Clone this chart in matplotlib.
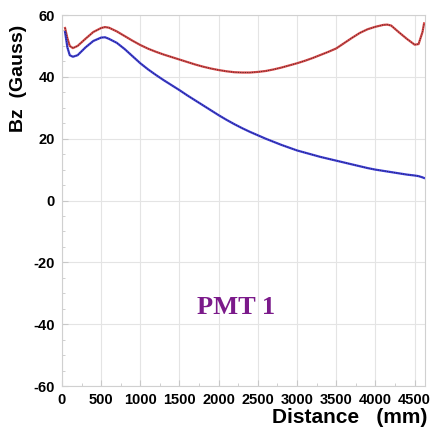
import numpy as np
import matplotlib
matplotlib.use("Agg")
import matplotlib.pyplot as plt
from matplotlib.ticker import MultipleLocator

# distance along the axis (mm) and Bz (Gauss)
dist = [40, 70, 100, 140, 200, 300, 400, 500, 550, 600, 700, 800, 900,
        1000, 1100, 1200, 1300, 1400, 1500, 1600, 1700, 1800, 1900,
        2000, 2100, 2200, 2300, 2400, 2500, 2600, 2700, 2800, 2900,
        3000, 3100, 3200, 3300, 3400, 3500, 3600, 3700, 3800, 3900,
        4000, 4100, 4150, 4200, 4300, 4400, 4500, 4550, 4600, 4620]

bz_red = [55.8, 52.5, 50.0, 49.3, 50.0, 52.3, 54.5, 55.8, 56.1, 55.9, 54.7, 53.2, 51.7,
          50.3, 49.1, 48.1, 47.2, 46.4, 45.6, 44.8, 44.0, 43.3, 42.7,
          42.2, 41.8, 41.5, 41.4, 41.4, 41.6, 41.9, 42.4, 43.0, 43.7,
          44.4, 45.2, 46.1, 47.1, 48.1, 49.2, 50.9, 52.6, 54.2, 55.4,
          56.2, 56.8, 56.9, 56.6, 54.4, 52.3, 50.4, 50.6, 54.5, 57.3]

bz_blue = [54.5, 49.5, 47.0, 46.5, 47.0, 49.5, 51.6, 52.7, 52.8, 52.3, 51.0, 49.0, 46.7,
           44.4, 42.4, 40.6, 38.9, 37.3, 35.7, 34.0, 32.4, 30.8, 29.2,
           27.6, 26.1, 24.7, 23.4, 22.2, 21.1, 20.0, 19.0, 18.0, 17.1,
           16.2, 15.5, 14.8, 14.1, 13.5, 12.9, 12.3, 11.7, 11.1, 10.5,
           10.0, 9.6, 9.4, 9.2, 8.8, 8.4, 8.1, 7.9, 7.5, 7.3]

xticks = [0, 500, 1000, 1500, 2000, 2500, 3000, 3500, 4000, 4500]
yticks = [-60, -40, -20, 0, 20, 40, 60]

plt.rcParams['font.family'] = ['Liberation Sans', 'DejaVu Sans']
plt.rcParams['axes.unicode_minus'] = False

fig = plt.figure(figsize=(4.30, 4.29), dpi=100)
ax = fig.add_axes([0.144, 0.100, 0.844, 0.865])

# coloured line with a dark dotted overlay, like the original trace
ax.plot(dist, bz_red, color='#d84848', lw=1.6, zorder=3)
ax.plot(dist, bz_red, color='#502828', lw=0.7, ls=(0, (1, 1.4)), zorder=4)
ax.plot(dist, bz_blue, color='#3c3cd8', lw=1.6, zorder=3)
ax.plot(dist, bz_blue, color='#28285a', lw=0.7, ls=(0, (1, 1.4)), zorder=4)

ax.set_xlim(0, 4630)
ax.set_ylim(-60, 60)
ax.set_xticks(xticks)
ax.set_yticks(yticks)
ax.xaxis.set_minor_locator(MultipleLocator(250))
ax.yaxis.set_minor_locator(MultipleLocator(5))
ax.grid(True, which='major', color='#e4e4e4', lw=0.8)
ax.set_axisbelow(True)

for s in ax.spines.values():
    s.set_color('#d0d0d0')
    s.set_linewidth(0.8)

ax.tick_params(which='both', direction='in', color='#c8c8c8')
ax.tick_params(which='major', length=4, labelsize=10.5, pad=5)
ax.tick_params(which='minor', length=2.5)
for lab in ax.get_xticklabels() + ax.get_yticklabels():
    lab.set_fontweight('bold')

ax.set_ylabel('Bz  (Gauss)', fontsize=14, fontweight='bold', labelpad=4)
ax.yaxis.set_label_coords(-0.095, 0.83)
fig.text(0.995, 1 - 423 / 429, 'Distance   (mm)', fontsize=15,
         fontweight='bold', ha='right', va='baseline')

ax.text(2220, -34.7, 'PMT 1', color='#7b1a8a', fontsize=19, fontweight='bold',
        family=['Liberation Serif', 'DejaVu Serif'], ha='center', va='center')

fig.savefig('out.png', dpi=100)
